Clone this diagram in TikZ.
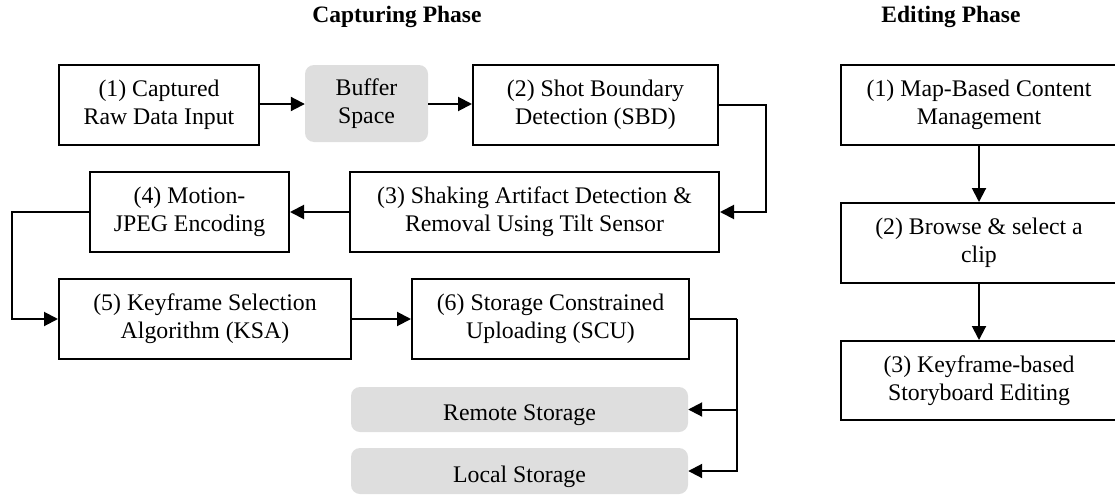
\documentclass[tikz,border=0pt]{standalone}
\usepackage{fontspec}
\setmainfont{Liberation Serif}
\usetikzlibrary{arrows.meta}
\begin{document}
\begin{tikzpicture}[x=1pt,y=-1pt,
  every node/.style={font=\fontsize{23.8}{28}\selectfont, align=center, inner sep=0pt},
  box/.style={draw=black, line width=2pt, fill=white},
  graybox/.style={fill=black!13, rounded corners=9pt},
  title/.style={font=\fontsize{23.5}{28}\selectfont\bfseries},
  conn/.style={line width=2pt, -{Triangle[length=14pt,width=14pt]}},
  plain/.style={line width=2pt}]
\useasboundingbox (0,0) rectangle (1115,495);
\clip (0,0) rectangle (1115,495);
% titles
\node[title] (tc) at (397,17) {Capturing Phase};
\node[title] (te) at (951,17) {Editing Phase};
% capturing phase
\node[box, minimum width=200pt, minimum height=80pt] (b1) at (159,105) {(1) Captured\\Raw Data Input};
\node[graybox, minimum width=123pt, minimum height=77pt] (buf) at (366.5,103.5) {Buffer\\Space};
\node[box, minimum width=245pt, minimum height=80pt] (b2) at (595.5,105) {(2) Shot Boundary\\Detection (SBD)};
\node[box, minimum width=369pt, minimum height=80pt] (b3) at (534.5,212) {(3) Shaking Artifact Detection \&\\Removal Using Tilt Sensor};
\node[box, minimum width=199pt, minimum height=80pt] (b4) at (189.5,212) {(4) Motion-\\JPEG Encoding};
\node[box, minimum width=292pt, minimum height=80pt] (b5) at (205,319) {(5) Keyframe Selection\\Algorithm (KSA)};
\node[box, minimum width=277pt, minimum height=80pt] (b6) at (550.5,319) {(6) Storage Constrained\\Uploading (SCU)};
\node[graybox, minimum width=337pt, minimum height=45pt] (rem) at (519.5,409.5) {\raisebox{-10.5pt}[0pt][0pt]{Remote Storage}};
\node[graybox, minimum width=337pt, minimum height=46pt] (loc) at (519.5,471) {\raisebox{-11pt}[0pt][0pt]{Local Storage}};
% editing phase
\node[box, minimum width=276pt, minimum height=80pt] (e1) at (979,105) {(1) Map-Based Content\\Management};
\node[box, minimum width=276pt, minimum height=80pt] (e2) at (979,243) {(2) Browse \& select a\\clip};
\node[box, minimum width=276pt, minimum height=79pt] (e3) at (979,380.5) {(3) Keyframe-based\\Storyboard Editing};
% turn points
\coordinate (t23) at (766,105);
\coordinate (t45) at (12,212);
\coordinate (t6) at (737,319);
% connectors
\draw[conn] (b1.east |- 0,104) -- (buf.west |- 0,104);
\draw[conn] (buf.east |- 0,104) -- (b2.west |- 0,104);
\draw[conn] (b2.east) -- (t23) |- (b3.east);
\draw[conn] (b3.west) -- (b4.east);
\draw[conn] (b4.west) -- (t45) |- (b5.west);
\draw[conn] (b5.east) -- (b6.west);
\draw[plain] (b6.east) -- (t6);
\draw[conn] (t6) |- (rem.east);
\draw[conn] (t6) |- (loc.east);
\draw[conn] (e1.south) -- (e2.north);
\draw[conn] (e2.south) -- (e3.north);
\end{tikzpicture}
\end{document}
